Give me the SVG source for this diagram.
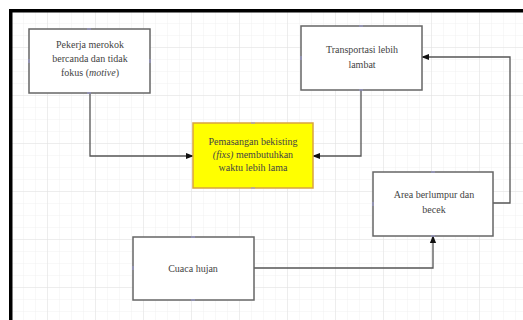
<svg xmlns="http://www.w3.org/2000/svg" width="523" height="320" viewBox="0 0 523 320">
  <defs>
    <pattern id="minor" width="12" height="12" patternUnits="userSpaceOnUse">
      <path d="M12 0V12M0 12H12" fill="none" stroke="#f1f1f1" stroke-width="1"/>
    </pattern>
    <pattern id="major" width="48" height="48" patternUnits="userSpaceOnUse">
      <rect width="48" height="48" fill="url(#minor)"/>
      <path d="M48 0V48M0 48H48" fill="none" stroke="#e2e2e2" stroke-width="1"/>
    </pattern>
    <marker id="arrow" viewBox="0 0 10 10" refX="9" refY="5" markerWidth="8" markerHeight="8" orient="auto" markerUnits="userSpaceOnUse">
      <path d="M0 1L10 5L0 9Z" fill="#111"/>
    </marker>
  </defs>
  <style>
    .box { fill: #ffffff; stroke: #666; stroke-width: 1.5; }
    .hot { fill: #ffff00; stroke: #d9a440; stroke-width: 1.5; }
    .lbl { font-family: "Liberation Serif", "Times New Roman", serif; font-size: 10px; fill: #444; text-anchor: middle; }
    .conn { fill: none; stroke: #555; stroke-width: 1.3; }
    .pt { stroke: #9a9ad6; stroke-width: 1; }
  </style>

  <!-- page background with grid -->
  <rect width="523" height="320" fill="#ffffff"/>
  <rect x="12" y="12" width="511" height="308" fill="url(#major)"/>
  <!-- frame edges -->
  <rect x="9" y="9" width="514" height="3.5" fill="#000"/>
  <rect x="9" y="9" width="3.5" height="311" fill="#000"/>

  <!-- connectors -->
  <g id="connectors">
    <path class="conn" d="M90 93V156H193" marker-end="url(#arrow)"/>
    <path class="conn" d="M361 90V156H313" marker-end="url(#arrow)"/>
    <path class="conn" d="M493 203H510V57H422" marker-end="url(#arrow)"/>
    <path class="conn" d="M254 268H433V236" marker-end="url(#arrow)"/>
  </g>

  <g id="pekerja">
    <rect class="box" x="29" y="29" width="121" height="64"/>
    <path class="pt" d="M87 29h4M29 59v4M150 59v4M87 93h4"/>
    <text class="lbl" x="90" y="48">Pekerja merokok</text>
    <text class="lbl" x="90" y="62">bercanda dan tidak</text>
    <text class="lbl" x="90" y="76">fokus (<tspan font-style="italic">motive</tspan>)</text>
  </g>

  <g id="transportasi">
    <rect class="box" x="301" y="26" width="121" height="64"/>
    <path class="pt" d="M359 26h4M301 56v4M359 90h4"/>
    <text class="lbl" x="362" y="53">Transportasi lebih</text>
    <text class="lbl" x="362" y="68">lambat</text>
  </g>

  <g id="bekisting">
    <rect class="hot" x="193" y="123" width="120" height="65"/>
    <path class="pt" d="M251 123h4M251 188h4"/>
    <text class="lbl" x="253" y="145" fill="#333">Pemasangan bekisting</text>
    <text class="lbl" x="253" y="158" fill="#333"><tspan font-style="italic">(fixs)</tspan> membutuhkan</text>
    <text class="lbl" x="253" y="171" fill="#333">waktu lebih lama</text>
  </g>

  <g id="area">
    <rect class="box" x="373" y="172" width="120" height="64"/>
    <path class="pt" d="M431 172h4M373 202v4M431 236h4"/>
    <text class="lbl" x="434" y="198">Area berlumpur dan</text>
    <text class="lbl" x="434" y="213">becek</text>
  </g>

  <g id="cuaca">
    <rect class="box" x="133" y="237" width="121" height="63"/>
    <path class="pt" d="M191 237h4M133 266v4M191 300h4"/>
    <text class="lbl" x="193" y="272">Cuaca hujan</text>
  </g>
</svg>
